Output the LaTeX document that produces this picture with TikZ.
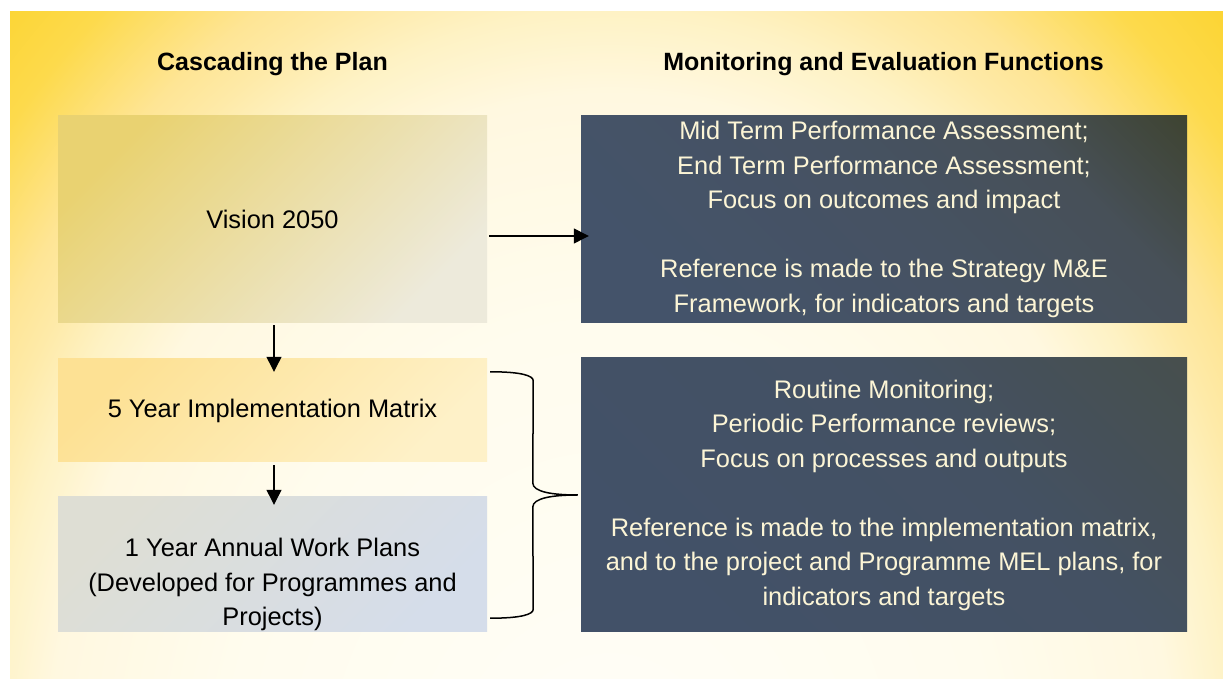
\documentclass[tikz,border=0pt]{standalone}
\usepackage{fontspec}
\setmainfont{Liberation Sans}
\usepackage{tikz}
\usetikzlibrary{arrows.meta, calc}
\usepackage{xcolor}
\definecolor{glowA}{HTML}{FFFEF8}
\definecolor{glowB}{HTML}{FFFCEE}
\definecolor{glowC}{HTML}{FFF8E0}
\definecolor{glowD}{HTML}{FEF2C4}
\definecolor{glowE}{HTML}{FEEAA8}
\definecolor{glowF}{HTML}{FEE595}
\definecolor{glowG}{HTML}{FDDA4C}
\definecolor{glowH}{HTML}{FCD535}
\definecolor{creamtext}{HTML}{FCF5D6}
\definecolor{visionA}{HTML}{E9D271}
\definecolor{visionB}{HTML}{EDE3BA}
\definecolor{visionC}{HTML}{EDEADB}
\definecolor{fiveA}{HTML}{FDE194}
\definecolor{fiveB}{HTML}{FEE9AE}
\definecolor{fiveC}{HTML}{FEF1C8}
\definecolor{annualA}{HTML}{DEDED4}
\definecolor{annualB}{HTML}{D9DDE0}
\definecolor{annualC}{HTML}{D5DDEA}
\definecolor{mtopA}{HTML}{3C4026}
\definecolor{mtopB}{HTML}{475058}
\definecolor{mtopC}{HTML}{465262}
\definecolor{mtopD}{HTML}{44536A}
\definecolor{mbotA}{HTML}{474F4B}
\definecolor{mbotB}{HTML}{445163}
\definecolor{mbotC}{HTML}{425168}
\pgfdeclareradialshading{bgglow}{\pgfpointorigin}{color(0bp)=(glowA); color(12bp)=(glowB);
	color(17.5bp)=(glowC); color(19.5bp)=(glowD); color(21bp)=(glowE); color(22.25bp)=(glowF);
	color(25bp)=(glowG); color(27bp)=(glowH); color(50bp)=(glowH)}
\pgfdeclareverticalshading{mtopshade}{100bp}{color(0bp)=(mtopD); color(25bp)=(mtopD);
	color(52bp)=(mtopC); color(70bp)=(mtopB); color(90bp)=(mtopA); color(100bp)=(mtopA)}
\pgfdeclareverticalshading{mbotshade}{100bp}{color(0bp)=(mbotC); color(25bp)=(mbotC);
	color(60bp)=(mbotB); color(88bp)=(mbotA); color(100bp)=(mbotA)}
\newcommand{\planfont}{\fontsize{25.4}{34.5}\selectfont}
\newcommand{\headfont}{\fontsize{25}{30}\selectfont\bfseries}

\begin{document}
\begin{tikzpicture}[x=1pt, y=1pt]
		\tikzstyle{lbox}=[
		rectangle,
		text centered,
		align=center,
		inner sep=0pt,
		minimum width=429pt,
		font=\planfont]
		\tikzstyle{mbox}=[
		rectangle,
		text centered,
		align=center,
		inner sep=0pt,
		minimum width=606pt,
		text=creamtext,
		shade,
		shading angle=-45,
		font=\planfont]
		\tikzstyle{head}=[
		anchor=base,
		font=\headfont]
		\tikzstyle{arr}=[
		-{Triangle[length=15pt, width=15pt]},
		line width=1.3pt]
		%
		\useasboundingbox (0,0) rectangle (1223,679);
		\begin{scope}
			\clip (10,0) rectangle (1223,667);
			\shade[shading=bgglow] (-200,-1200) rectangle (1420,900);
		\end{scope}
		%
		\node[head] (cascade) at (272.5,608) {Cascading the Plan};
		\node[head] (monitor) at (883.5,608) {Monitoring and Evaluation Functions};
		%
		\node[lbox, minimum height=207pt, top color=visionA, middle color=visionB,
			bottom color=visionC, shading angle=45] (vision) at (272.5,459.5) {Vision 2050};
		\node[lbox, minimum height=103pt, top color=fiveA, middle color=fiveB,
			bottom color=fiveC, shading angle=45, below of=vision, node distance=191pt] (fiveyr) {5 Year Implementation Matrix};
		\node[lbox, minimum height=135pt, top color=annualA, middle color=annualB,
			bottom color=annualC, shading angle=45, below of=fiveyr, node distance=154pt] (annual)
			{\strut\\1 Year Annual Work Plans\\(Developed for Programmes and\\Projects)};
		\node[mbox, minimum height=207pt, shading=mtopshade, right of=vision, node distance=611.5pt] (mtop)
			{Mid Term Performance Assessment;\\End Term Performance Assessment;\\Focus on outcomes and impact\\ \\
			Reference is made to the Strategy M\&E\\Framework, for indicators and targets};
		\node[mbox, minimum height=274pt, shading=mbotshade, below of=mtop, node distance=275.5pt] (mbot)
			{Routine Monitoring;\\Periodic Performance reviews;\\Focus on processes and outputs\\ \\
			Reference is made to the implementation matrix,\\and to the project and Programme MEL plans, for\\indicators and targets};
		%
		\path [arr] ([xshift=2pt, yshift=-16.5pt]vision.east) edge ([xshift=8pt, yshift=-16.5pt]mtop.west);
		\path [arr] ([xshift=1.5pt, yshift=-2pt]vision.south) edge ([xshift=1.5pt, yshift=-13pt]fiveyr.north);
		\path [arr] ([xshift=1.5pt, yshift=-3pt]fiveyr.south) edge ([xshift=1.5pt, yshift=-8pt]annual.north);
		%
		\coordinate (btop) at ([xshift=3pt, yshift=-13pt]fiveyr.north east);
		\coordinate (bbot) at ([xshift=3pt, yshift=14pt]annual.south east);
		\coordinate (btip) at ([xshift=-3pt]mbot.west);
		\draw [line width=1.5pt] (btop) .. controls +(32,0) and +(0,5) .. ($(btop)+(43,-9)$)
			-- ($(btip)+(-45,12)$) .. controls +(0,-9) and +(-25,0) .. (btip)
			.. controls +(-25,0) and +(0,9) .. ($(btip)+(-45,-12)$)
			-- ($(bbot)+(43,9)$) .. controls +(0,-5) and +(32,0) .. (bbot);
	\end{tikzpicture}
\end{document}
